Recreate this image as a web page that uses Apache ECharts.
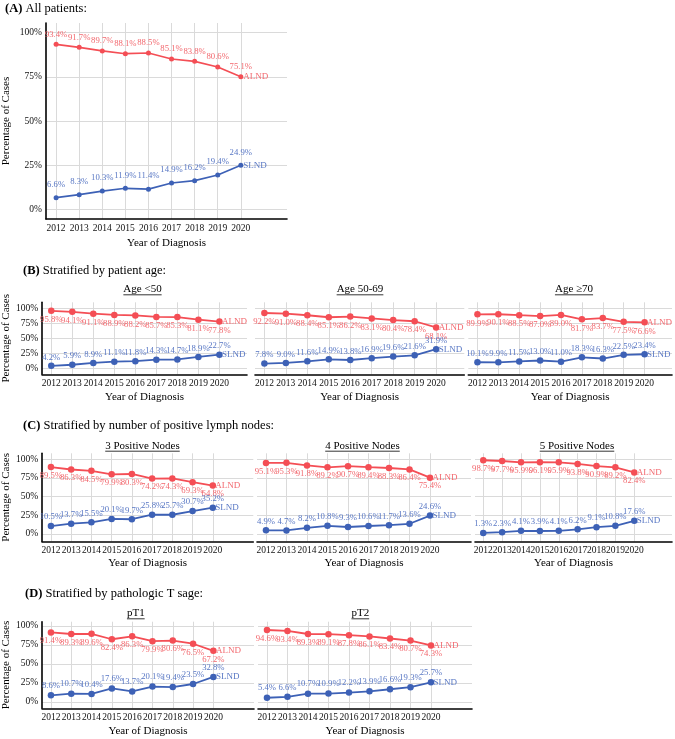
<!DOCTYPE html>
<html><head><meta charset="utf-8">
<script src="https://cdn.jsdelivr.net/npm/echarts@6/dist/echarts.min.js"></script>
<style>html,body{margin:0;padding:0;background:#fff}#c{width:675px;height:739px}</style>
</head><body><div id="c"></div>
<script>
// ---------------- DATA ----------------
const years = [2012, 2013, 2014, 2015, 2016, 2017, 2018, 2019, 2020];
const yTicks = [0, 25, 50, 75, 100];

const allALND = [93.4, 91.7, 89.7, 88.1, 88.5, 85.1, 83.8, 80.6, 75.1];
const allSLND = [6.6, 8.3, 10.3, 11.9, 11.4, 14.9, 16.2, 19.4, 24.9];

const ageLt50ALND = [95.8, 94.1, 91.1, 88.9, 88.2, 85.7, 85.3, 81.1, 77.8];
const ageLt50SLND = [4.2, 5.9, 8.9, 11.1, 11.8, 14.3, 14.7, 18.9, 22.7];
const age5069ALND = [92.2, 91.0, 88.4, 85.1, 86.2, 83.1, 80.4, 78.4, 68.1];
const age5069SLND = [7.8, 9.0, 11.6, 14.9, 13.8, 16.9, 19.6, 21.6, 31.9];
const ageGe70ALND = [89.9, 90.1, 88.5, 87.0, 89.0, 81.7, 83.7, 77.5, 76.6];
const ageGe70SLND = [10.1, 9.9, 11.5, 13.0, 11.0, 18.3, 16.3, 22.5, 23.4];

const n3ALND = [89.5, 86.3, 84.5, 79.9, 80.3, 74.2, 74.3, 69.3, 64.8];
const n3SLND = [10.5, 13.7, 15.5, 20.1, 19.7, 25.8, 25.7, 30.7, 35.2];
const n4ALND = [95.1, 95.3, 91.8, 89.2, 90.7, 89.4, 88.3, 86.4, 75.4];
const n4SLND = [4.9, 4.7, 8.2, 10.8, 9.3, 10.6, 11.7, 13.6, 24.6];
const n5ALND = [98.7, 97.7, 95.9, 96.1, 95.9, 93.8, 90.9, 89.2, 82.4];
const n5SLND = [1.3, 2.3, 4.1, 3.9, 4.1, 6.2, 9.1, 10.8, 17.6];

const pT1ALND = [91.4, 89.3, 89.6, 82.4, 86.3, 79.9, 80.6, 76.5, 67.2];
const pT1SLND = [8.6, 10.7, 10.4, 17.6, 13.7, 20.1, 19.4, 23.5, 32.8];
const pT2ALND = [94.6, 93.4, 89.3, 89.1, 87.8, 86.1, 83.4, 80.7, 74.3];
const pT2SLND = [5.4, 6.6, 10.7, 10.9, 12.2, 13.9, 16.6, 19.3, 25.7];

const sectionTitles = [
  {tag: '(A)', text: ' All patients:'},
  {tag: '(B)', text: ' Stratified by patient age:'},
  {tag: '(C)', text: ' Stratified by number of positive lymph nodes:'},
  {tag: '(D)', text: ' Stratified by pathologic T sage:'}
];
const subTitles = ['Age <50', 'Age 50-69', 'Age \u226570', '3 Positive Nodes', '4 Positive Nodes', '5 Positive Nodes', 'pT1', 'pT2'];
const xTitle = 'Year of Diagnosis';
const yTitle = 'Percentage of Cases';
const seriesNames = ['ALND', 'SLND'];

// ---------------- STYLE / LAYOUT ----------------
const FONT = '"Liberation Serif", "Times New Roman", serif';
const RED = '#F44E55', RED_T = '#F2686E', BLUE = '#3D61B6', BLUE_T = '#5877C4';
const GRID_C = '#DADADA';
const XSTEP = 0.0625, YSTEP = 0.5;

const panels = [
  {a: allALND, s: allSLND, grid: {left: 45, top: 23, width: 242, height: 196}, x: [2011.5625, 2022], y: [-5.5, 105.5], yShow: true, aPos: 'top', aDist: 3, sDist: 6, sym: 5, lw: 1.7, yGap: 34, xGap: 19},
  {a: ageLt50ALND, s: ageLt50SLND, grid: {left: 37.7, top: 302.3, width: 209.3, height: 72}, x: [2011.5625, 2021.3125], y: [-10, 110], yShow: true, aPos: 'bottom', aDist: 1.2, sDist: 0.8, sym: 6.5, lw: 1.8, yGap: 26.5, xGap: 17, sub: 0, subX: 142.5, subY: 289.3},
  {a: age5069ALND, s: age5069SLND, grid: {left: 255, top: 302.3, width: 209.3, height: 72}, x: [2011.5625, 2021.3125], y: [-10, 110], yShow: false, aPos: 'bottom', aDist: 1.2, sDist: 0.8, sym: 6.5, lw: 1.8, xGap: 17, sub: 1, subX: 360, subY: 289.3},
  {a: ageGe70ALND, s: ageGe70SLND, grid: {left: 468.3, top: 302.3, width: 209.3, height: 72}, x: [2011.5625, 2021.3125], y: [-10, 110], yShow: false, aPos: 'bottom', aDist: 1.2, sDist: 0.8, sym: 6.5, lw: 1.8, xGap: 17, sub: 2, subX: 574, subY: 289.3},
  {a: n3ALND, s: n3SLND, grid: {left: 39.3, top: 453.3, width: 214, height: 88.1}, x: [2011.5625, 2022], y: [-10, 108], yShow: true, aPos: 'bottom', aDist: 0.8, sDist: 1.2, sym: 6.5, lw: 1.8, yGap: 28, xGap: 16, sub: 3, subX: 142.5, subY: 445.7},
  {a: n4ALND, s: n4SLND, grid: {left: 257, top: 453.3, width: 214, height: 88.1}, x: [2011.5625, 2022], y: [-10, 108], yShow: false, aPos: 'bottom', aDist: 0.8, sDist: 1.2, sym: 6.5, lw: 1.8, xGap: 16, sub: 4, subX: 362.5, subY: 445.7},
  {a: n5ALND, s: n5SLND, grid: {left: 475, top: 453.3, width: 214, height: 88.1}, x: [2011.5625, 2022], y: [-10, 108], yShow: false, aPos: 'bottom', aDist: 0.8, sDist: 1.2, sym: 6.5, lw: 1.8, xGap: 16, sub: 5, subX: 577, subY: 445.7},
  {a: pT1ALND, s: pT1SLND, grid: {left: 40, top: 621.7, width: 214, height: 86.6}, x: [2011.5625, 2022], y: [-8.5, 105.5], yShow: true, aPos: 'bottom', aDist: 0.8, sDist: 1.8, sym: 6.5, lw: 1.8, yGap: 29, xGap: 17, sub: 6, subX: 135.8, subY: 613.3},
  {a: pT2ALND, s: pT2SLND, grid: {left: 258, top: 621.7, width: 214, height: 86.6}, x: [2011.5625, 2022], y: [-8.5, 105.5], yShow: false, aPos: 'bottom', aDist: 0.8, sDist: 1.8, sym: 6.5, lw: 1.8, xGap: 17, sub: 7, subX: 360.3, subY: 613.3}
];
const titlePos = [[5, 8.5], [23, 271], [23, 426], [25, 593.3]];

// ---------------- BUILD ----------------
const isYMajor = v => yTicks.some(t => Math.abs(t - v) < 1e-9);
const isXMajor = v => years.some(t => Math.abs(t - v) < 1e-9);
function splitColors(min, max, step, isMajor) {
  const n = Math.round((max - min) / step);
  const arr = [];
  for (let i = 0; i <= n; i++) arr.push(isMajor(min + i * step) ? GRID_C : 'rgba(0,0,0,0)');
  return arr;
}

const grids = [], xAxes = [], yAxes = [], series = [], graphics = [];
panels.forEach((p, i) => {
  grids.push(Object.assign({containLabel: false}, p.grid));
  xAxes.push({
    type: 'value', gridIndex: i, min: p.x[0], max: p.x[1], interval: XSTEP,
    name: xTitle, nameLocation: 'middle', nameGap: p.xGap,
    nameTextStyle: {fontFamily: FONT, fontSize: 11, color: '#000'},
    axisLine: {show: true, onZero: false, lineStyle: {color: '#000', width: 1.6}},
    axisTick: {show: false},
    axisLabel: {margin: 4, fontFamily: FONT, fontSize: 9.5, color: '#111',
      formatter: v => isXMajor(v) ? String(Math.round(v)) : ''},
    splitLine: {show: true, lineStyle: {width: 1, color: splitColors(p.x[0], p.x[1], XSTEP, isXMajor)}}
  });
  yAxes.push({
    type: 'value', gridIndex: i, min: p.y[0], max: p.y[1], interval: YSTEP,
    name: p.yShow ? yTitle : '', nameLocation: 'middle', nameGap: p.yGap || 0,
    nameTextStyle: {fontFamily: FONT, fontSize: 11, color: '#000'},
    axisLine: {show: p.yShow, onZero: false, lineStyle: {color: '#000', width: 1.6}},
    axisTick: {show: false},
    axisLabel: {show: p.yShow, margin: 4, fontFamily: FONT, fontSize: 9.5, color: '#111',
      formatter: v => isYMajor(v) ? Math.round(v) + '%' : ''},
    splitLine: {show: true, lineStyle: {width: 1, color: splitColors(p.y[0], p.y[1], YSTEP, isYMajor)}}
  });
  const mk = (vals, name, col, tcol, pos, dist) => ({
    type: 'line', name: name, xAxisIndex: i, yAxisIndex: i,
    data: years.map((yr, k) => [yr, vals[k]]),
    symbol: 'circle', symbolSize: p.sym, showAllSymbol: true,
    lineStyle: {color: col, width: p.lw}, itemStyle: {color: col},
    label: {show: true, position: pos, distance: dist, fontFamily: FONT, fontSize: 8.7, color: tcol,
      formatter: q => q.value[1].toFixed(1) + '%'},
    endLabel: {show: true, formatter: name, distance: 2.5, fontFamily: FONT, fontSize: 9, color: tcol},
    emphasis: {disabled: true}, silent: true, clip: false
  });
  series.push(mk(p.a, seriesNames[0], RED, RED_T, p.aPos, p.aDist));
  series.push(mk(p.s, seriesNames[1], BLUE, BLUE_T, 'top', p.sDist));
});

// section titles
sectionTitles.forEach((t, i) => {
  graphics.push({type: 'text', x: titlePos[i][0], y: titlePos[i][1], silent: true,
    style: {text: '{b|' + t.tag + '}' + t.text, font: '12.5px ' + FONT, fill: '#000',
      align: 'left', verticalAlign: 'middle',
      rich: {b: {fontWeight: 'bold', fontSize: 12.5, fontFamily: FONT, fill: '#000'}}}});
});
// subtitles with underline
const mctx = document.createElement('canvas').getContext('2d');
mctx.font = '11px "Liberation Serif"';
panels.forEach(p => {
  if (p.sub === undefined) return;
  const txt = subTitles[p.sub];
  const w = mctx.measureText(txt).width;
  graphics.push({type: 'text', x: p.subX, y: p.subY, silent: true,
    style: {text: txt, font: '11px ' + FONT, fill: '#000', align: 'center', verticalAlign: 'middle'}});
  graphics.push({type: 'line', silent: true,
    shape: {x1: p.subX - w / 2, y1: p.subY + 5.5, x2: p.subX + w / 2, y2: p.subY + 5.5},
    style: {stroke: '#000', lineWidth: 0.8}});
});

const chart = echarts.init(document.getElementById('c'), null, {width: 675, height: 739, renderer: 'canvas'});
chart.setOption({
  backgroundColor: '#fff',
  animation: false,
  textStyle: {fontFamily: FONT},
  grid: grids, xAxis: xAxes, yAxis: yAxes, series: series,
  graphic: graphics
});
</script></body></html>
